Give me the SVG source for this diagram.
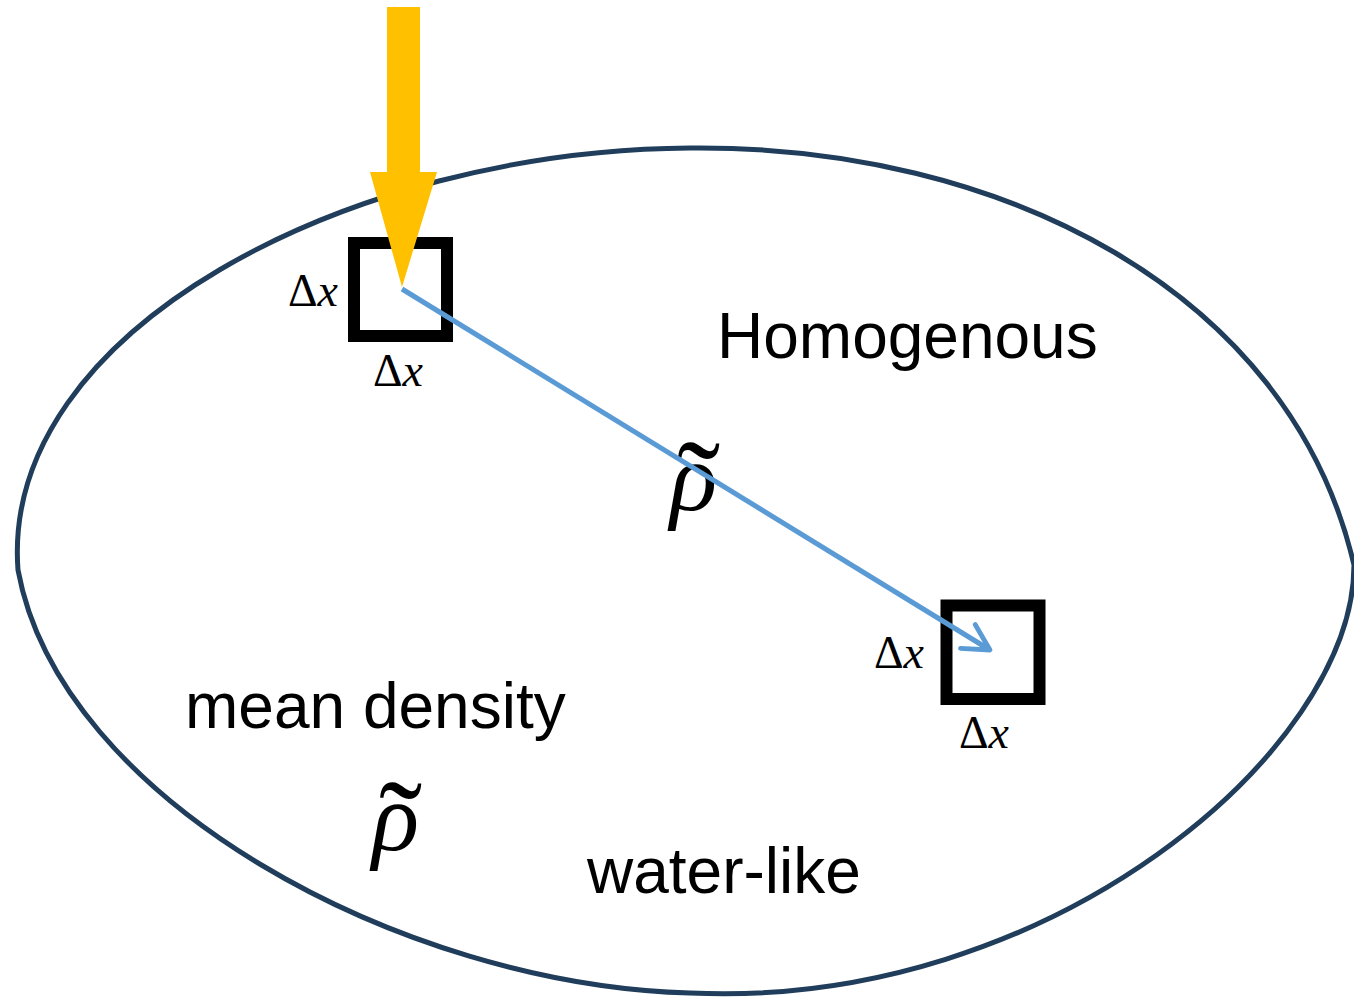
<svg xmlns="http://www.w3.org/2000/svg" width="1354" height="1005" viewBox="0 0 1354 1005">
<style>
.lbl{font-family:"Liberation Sans",Arial,sans-serif;font-size:64px;fill:#000}
.dx{font-family:"Liberation Serif","DejaVu Serif",serif;font-size:46px;fill:#000}
.rho{font-family:"Liberation Serif","DejaVu Serif",serif;font-style:italic;font-size:98px;fill:#000}
.til{font-style:normal;font-size:130px}
.box{fill:none;stroke:#000;stroke-width:12}
</style>
<defs>
<marker id="chev" viewBox="0 0 20 20" refX="17" refY="10" markerWidth="8" markerHeight="8" markerUnits="strokeWidth" orient="auto">
<path d="M 4,3 L 17,10 L 4,17" fill="none" stroke="#5B9BD5" stroke-width="2.4" stroke-linecap="round" stroke-linejoin="round"/>
</marker>
</defs>
<g id="region">
<path d="M 690,148 C 1000,145 1290,290 1354,565 C 1354,750 1050,1010 690,993 C 400,985 60,800 18,570 C 0,330 350,150 690,148 Z" fill="none" stroke="#203D5B" stroke-width="5"/>
</g>
<g id="box1">
<rect class="box" x="354" y="243" width="93" height="93"/>
<text class="dx" x="288" y="306">Δ<tspan font-style="italic">x</tspan></text>
<text class="dx" x="373" y="386">Δ<tspan font-style="italic">x</tspan></text>
</g>
<g id="box2">
<rect class="box" x="946.5" y="605.5" width="93" height="93.5"/>
<text class="dx" x="874" y="668">Δ<tspan font-style="italic">x</tspan></text>
<text class="dx" x="959" y="748">Δ<tspan font-style="italic">x</tspan></text>
</g>
<g id="labels">
<text class="lbl" x="717" y="358">Homogenous</text>
<text class="lbl" x="185" y="728">mean density</text>
<text class="lbl" x="587" y="893">water-like</text>
<text class="rho" x="670" y="510">ρ<tspan class="til" x="677" y="530">˜</tspan></text>
<text class="rho" x="372" y="850">ρ<tspan class="til" x="379" y="870">˜</tspan></text>
</g>
<g id="connectors">
<line x1="402" y1="289" x2="990" y2="650" stroke="#5B9BD5" stroke-width="5" marker-end="url(#chev)"/>
<polygon points="387,7 420,7 420,172 437,172 402,287 370,172 387,172" fill="#FFC000"/>
</g>
</svg>
